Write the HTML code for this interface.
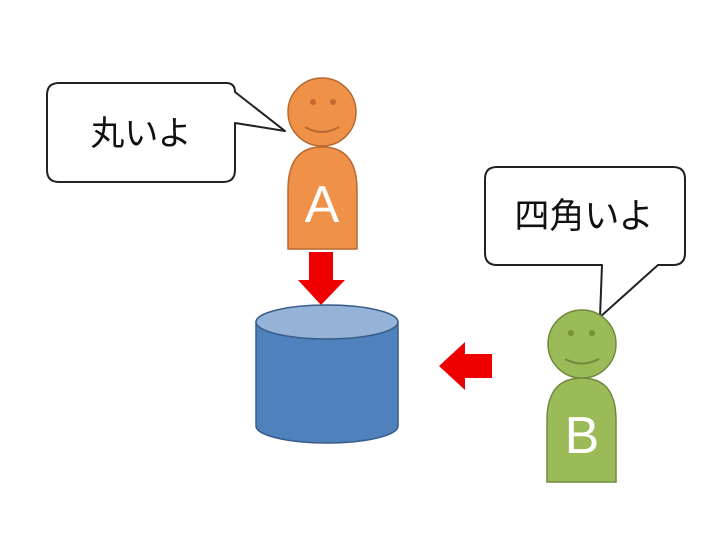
<!DOCTYPE html>
<html><head><meta charset="utf-8"><style>
html,body{margin:0;padding:0;background:#fff;width:718px;height:539px;overflow:hidden}
</style></head><body>
<svg width="718" height="539" viewBox="0 0 718 539" xmlns="http://www.w3.org/2000/svg">
<!-- Bubble A -->
<path d="M59,83 H226 Q235,83 235,92 L285,131 L235,123 V170 Q235,182 223,182 H59 Q47,182 47,170 V95 Q47,83 59,83 Z" fill="#fff" stroke="#222" stroke-width="2" stroke-linejoin="round"/>
<text x="141" y="145" font-family="Liberation Sans, Noto Sans CJK JP, sans-serif" font-size="34" text-anchor="middle" fill="#111">丸いよ</text>
<!-- Person A -->
<circle cx="322" cy="112" r="34" fill="#F0914A" stroke="#B9692F" stroke-width="1.5"/>
<circle cx="313" cy="102" r="3" fill="#C06B2E"/><circle cx="333" cy="102" r="3" fill="#C06B2E"/>
<path d="M305,127 Q322,137 339,127" fill="none" stroke="#B9692F" stroke-width="2"/>
<path d="M288,249 V190 Q288,147 322,147 Q357,147 357,190 V249 Z" fill="#F0914A" stroke="#B9692F" stroke-width="1.5"/>
<text x="322" y="222" font-family="Liberation Sans, sans-serif" font-size="52" text-anchor="middle" fill="#fff">A</text>
<!-- Down arrow -->
<path d="M309,252 H333 V280 H345 L321,305 L298,280 H309 Z" fill="#EE0000"/>
<!-- Cylinder -->
<path d="M256,322 V426 A71,17 0 0 0 398,426 V322 Z" fill="#4F81BD" stroke="#385D8A" stroke-width="1.5"/>
<ellipse cx="327" cy="322" rx="71" ry="17" fill="#95B3D7" stroke="#385D8A" stroke-width="1.5"/>
<!-- Left arrow -->
<path d="M439,366 L465,342 V354 H492 V378 H465 V390 Z" fill="#EE0000"/>
<!-- Bubble B -->
<path d="M497,167 H673 Q685,167 685,179 V253 Q685,265 673,265 H658 L600,317 L602,265 H497 Q485,265 485,253 V179 Q485,167 497,167 Z" fill="#fff" stroke="#222" stroke-width="2" stroke-linejoin="round"/>
<text x="584" y="228" font-family="Liberation Sans, Noto Sans CJK JP, sans-serif" font-size="35" text-anchor="middle" fill="#111">四角いよ</text>
<!-- Person B -->
<circle cx="582" cy="344" r="34" fill="#9BBB59" stroke="#71893F" stroke-width="1.5"/>
<circle cx="571" cy="333" r="3" fill="#76923C"/><circle cx="592" cy="333" r="3" fill="#76923C"/>
<path d="M565,359 Q582,368 599,359" fill="none" stroke="#71893F" stroke-width="2"/>
<path d="M547,482 V420 Q547,378 582,378 Q616,378 616,420 V482 Z" fill="#9BBB59" stroke="#71893F" stroke-width="1.5"/>
<text x="582" y="453" font-family="Liberation Sans, sans-serif" font-size="52" text-anchor="middle" fill="#fff">B</text>
</svg>
</body></html>
